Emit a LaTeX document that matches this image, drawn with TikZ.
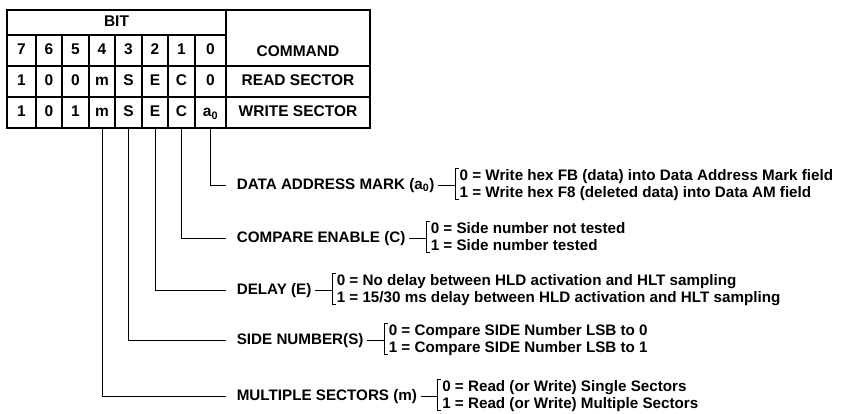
\documentclass[tikz,border=0pt]{standalone}
\usepackage{fontspec}
\setmainfont{Liberation Sans}
\usetikzlibrary{calc,positioning}
\newcommand\bitrow[3]{% name, y, bits
  \foreach \j [count=\i from 0] in {#3}
  {
    \pgfmathsetmacro\xl{{7,36,62,89,115,142,168,195,226}[\i]}
    \pgfmathsetmacro\xr{{7,36,62,89,115,142,168,195,226}[\i+1]}
    \pgfmathsetmacro\w{\xr-\xl}
    \node[bitcell,minimum width=\w pt] at ({(\xl+\xr)/2},#2) (#1\i) {\j};
  }
}
\newcommand\choicebracket[3]{% label, upper, lower
  \draw let \p1=(#1.east), \p2=(#2.west), \p3=(#3.west) in (\x1,\y1) -- (\x2-3pt,\y1)
    (\x2+0.5pt,\y2+8pt) -- (\x2-3pt,\y2+8pt) -- (\x3-3pt,\y3-6pt) -- (\x3+0.5pt,\y3-6pt);
}
\begin{document}
\begin{tikzpicture}[x=1pt,y=-1pt]
		\tikzstyle{every node}=[font=\bfseries\fontsize{15.5}{18}\selectfont]
		\tikzstyle{every path}=[line width=1pt]
		\tikzstyle{bitcell}=[draw,line width=1.4pt,minimum height=31pt,inner sep=0pt,text height=11pt,text depth=3pt]
		\tikzstyle{leader}=[shorten >=7pt]
		\tikzstyle{field}=[anchor=west,text height=11pt,text depth=3pt,font=\bfseries\fontsize{15.2}{18}\selectfont]
		\tikzstyle{choice}=[anchor=west,inner xsep=1pt,inner ysep=0pt,text height=11pt,text depth=3pt,font=\bfseries\fontsize{15.2}{18}\selectfont]

\useasboundingbox (0,0) rectangle (844,413);

\node[bitcell,minimum width=219pt,minimum height=25pt] at (116.5,22.5) (bit) {BIT};
\draw[line width=1.4pt] (226,10) rectangle (370,66);
\node at (298,51) (cmd) {COMMAND};
\node[bitcell,minimum width=144pt] at (298,81.5) (rdsec) {READ SECTOR};
\node[bitcell,minimum width=144pt] at (298,112.5) (wrsec) {WRITE SECTOR};

\bitrow{num}{50.5}{7,6,5,4,3,2,1,0}
\bitrow{rd}{81.5}{1,0,0,m,S,E,C,0}
\bitrow{wr}{112.5}{1,0,1,m,S,E,C,a\textsubscript{0}}

\node[field] at (233,185) (dam) {DATA ADDRESS MARK (a\textsubscript{0})};
\node[field] at (233,238) (cmpen) {COMPARE ENABLE (C)};
\node[field] at (233,290) (dly) {DELAY (E)};
\node[field] at (233,340) (sidenum) {SIDE NUMBER(S)};
\node[field] at (233,396) (multi) {MULTIPLE SECTORS (m)};

\foreach \i/\f in {7/dam,6/cmpen,5/dly,4/sidenum,3/multi}
  \draw[leader] (wr\i.south) |- (\f.west);

\node[choice,xshift=20pt,yshift=8.5pt] at (dam.east) (dam0) {0 = Write hex FB (data) into Data Address Mark field};
\node[choice,xshift=20pt,yshift=-8.5pt] at (dam.east) (dam1) {1 = Write hex F8 (deleted data) into Data AM field};
\node[choice,xshift=20pt,yshift=8.5pt] at (cmpen.east) (cmpen0) {0 = Side number not tested};
\node[choice,xshift=20pt,yshift=-8.5pt] at (cmpen.east) (cmpen1) {1 = Side number tested};
\node[choice,xshift=20pt,yshift=8.5pt] at (dly.east) (dly0) {0 = No delay between HLD activation and HLT sampling};
\node[choice,xshift=20pt,yshift=-8.5pt] at (dly.east) (dly1) {1 = 15/30 ms delay between HLD activation and HLT sampling};
\node[choice,xshift=20pt,yshift=8.5pt] at (sidenum.east) (sidenum0) {0 = Compare SIDE Number LSB to 0};
\node[choice,xshift=20pt,yshift=-8.5pt] at (sidenum.east) (sidenum1) {1 = Compare SIDE Number LSB to 1};
\node[choice,xshift=20pt,yshift=8.5pt] at (multi.east) (multi0) {0 = Read (or Write) Single Sectors};
\node[choice,xshift=20pt,yshift=-8.5pt] at (multi.east) (multi1) {1 = Read (or Write) Multiple Sectors};

\choicebracket{dam}{dam0}{dam1}
\choicebracket{cmpen}{cmpen0}{cmpen1}
\choicebracket{dly}{dly0}{dly1}
\choicebracket{sidenum}{sidenum0}{sidenum1}
\choicebracket{multi}{multi0}{multi1}

\end{tikzpicture}
\end{document}
